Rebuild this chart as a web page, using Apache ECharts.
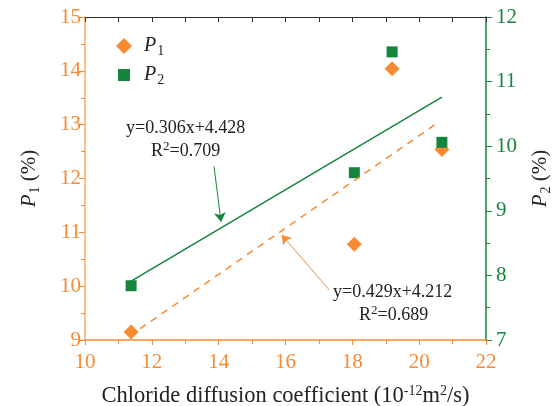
<!DOCTYPE html>
<html>
<head>
<meta charset="utf-8">
<script src="https://cdn.jsdelivr.net/npm/echarts@6/dist/echarts.min.js"></script>
<style>
  html, body { margin: 0; padding: 0; background: #fff; }
  #chart { width: 552px; height: 406px; }
</style>
</head>
<body>
<div id="chart"></div>
<script>
// chloride diffusion coefficient (x) for each specimen
const xValues = [11.38, 18.06, 19.19, 20.68]
// P1 (%) on left axis, P2 (%) on right axis
const p1Values = [9.15, 10.78, 14.04, 12.54]
const p2Values = [7.84, 9.59, 11.46, 10.06]
// ends of the fitted lines
const fitP1 = [[11.65, 9.21], [20.52, 13.02]]
const fitP2 = [[11.38, 7.91], [20.68, 10.76]]
// arrow ends [from, to]
const arrowP2 = [[13.86, 9.69], [14.07, 8.83]]
const arrowP1 = [[17.31, 9.93], [15.89, 10.95]]
const xTicks = [10, 12, 14, 16, 18, 20, 22]

const ORANGE = '#F68B33'
const GREEN = '#15843D'
const FONT = 'Liberation Serif'

const myChart = echarts.init(document.getElementById('chart'))

const supRich = {
  sup: { fontSize: 14, fontFamily: FONT, color: '#222', padding: [0, 0, 10, 0] },
}
const legendText = {
  rich: {
    i: { fontFamily: FONT, fontStyle: 'italic', fontSize: 20, color: '#222', padding: [0, 0, 0, 7] },
    s: { fontFamily: FONT, fontSize: 14, color: '#222', padding: [11, 0, 0, 1] },
  },
}
const legendFmt = function (name) {
  return '{i|P}{s|' + name.slice(1) + '}'
}
const sideName = {
  rich: {
    i: { fontFamily: FONT, fontStyle: 'italic', fontSize: 21, color: '#222' },
    s: { fontFamily: FONT, fontSize: 14, color: '#222', padding: [11, 0, 0, 1] },
    n: { fontFamily: FONT, fontSize: 21, color: '#222' },
  },
}

myChart.setOption({
  animation: false,
  backgroundColor: '#fff',
  grid: { left: 85, right: 66, top: 17, bottom: 66, containLabel: false, outerBoundsMode: 'none' },
  legend: [
    {
      left: 111,
      top: 31,
      itemWidth: 16,
      itemHeight: 16,
      data: ['P1'],
      formatter: legendFmt,
      textStyle: legendText,
    },
    {
      left: 113,
      top: 60,
      itemWidth: 12,
      itemHeight: 12,
      data: ['P2'],
      formatter: legendFmt,
      textStyle: {
        rich: {
          i: { fontFamily: FONT, fontStyle: 'italic', fontSize: 20, color: '#222', padding: [0, 0, 0, 9] },
          s: { fontFamily: FONT, fontSize: 14, color: '#222', padding: [11, 0, 0, 1] },
        },
      },
    },
  ],
  xAxis: [
    {
      type: 'value',
      position: 'bottom',
      min: xTicks[0],
      max: xTicks[xTicks.length - 1],
      interval: 2,
      splitLine: { show: false },
      axisLine: { lineStyle: { color: ORANGE, width: 1.5 } },
      axisTick: { length: 5, lineStyle: { color: ORANGE } },
      minorTick: { show: true, splitNumber: 2, length: 4, lineStyle: { color: ORANGE } },
      axisLabel: { color: ORANGE, fontSize: 21, fontFamily: FONT, margin: 12 },
      name: 'Chloride diffusion coefficient (10{sup|-12}m{sup|2}/s)',
      nameLocation: 'middle',
      nameGap: 44,
      nameTextStyle: { color: '#222', fontSize: 22.5, fontFamily: FONT, rich: supRich },
    },
    {
      type: 'value',
      position: 'top',
      min: 10,
      max: 22,
      interval: 1,
      splitLine: { show: false },
      axisLine: { lineStyle: { color: '#333', width: 1 } },
      axisTick: { inside: true, length: 5, lineStyle: { color: '#333' } },
      axisLabel: { show: false },
    },
  ],
  yAxis: [
    {
      type: 'value',
      position: 'left',
      min: 9,
      max: 15,
      interval: 1,
      splitLine: { show: false },
      axisLine: { show: true, lineStyle: { color: '#F9AE6E', width: 1.5 } },
      axisTick: { length: 6, lineStyle: { color: ORANGE } },
      minorTick: { show: true, splitNumber: 2, length: 4, lineStyle: { color: ORANGE } },
      axisLabel: { color: ORANGE, fontSize: 21, fontFamily: FONT, margin: 4 },
      name: '{i|P}{s|1}{n| (%)}',
      nameLocation: 'middle',
      nameRotate: 90,
      nameGap: 43,
      nameTextStyle: sideName,
    },
    {
      type: 'value',
      position: 'right',
      min: 7,
      max: 12,
      interval: 1,
      splitLine: { show: false },
      axisLine: { show: true, lineStyle: { color: GREEN, width: 1.5 } },
      axisTick: { length: 6, lineStyle: { color: GREEN } },
      minorTick: { show: true, splitNumber: 2, length: 4, lineStyle: { color: GREEN } },
      axisLabel: { color: GREEN, fontSize: 21, fontFamily: FONT, margin: 10 },
      name: '{i|P}{s|2}{n| (%)}',
      nameLocation: 'middle',
      nameRotate: 90,
      nameGap: 42,
      nameTextStyle: sideName,
    },
  ],
  series: [
    {
      name: 'fitP2',
      type: 'line',
      yAxisIndex: 1,
      data: fitP2,
      symbol: 'none',
      lineStyle: { color: GREEN, width: 1.5 },
      markLine: {
        silent: true,
        symbol: ['none', 'arrow'],
        symbolSize: 9,
        label: { show: false },
        lineStyle: { color: GREEN, width: 1, type: 'solid' },
        data: [[{ coord: arrowP2[0] }, { coord: arrowP2[1] }]],
      },
    },
    {
      name: 'fitP1',
      type: 'line',
      yAxisIndex: 0,
      data: fitP1,
      symbol: 'none',
      lineStyle: { color: ORANGE, width: 1.5, type: [7, 6] },
      markLine: {
        silent: true,
        symbol: ['none', 'arrow'],
        symbolSize: 9,
        label: { show: false },
        lineStyle: { color: ORANGE, width: 1, type: 'solid' },
        data: [[{ coord: arrowP1[0] }, { coord: arrowP1[1] }]],
      },
    },
    {
      name: 'P1',
      type: 'scatter',
      yAxisIndex: 0,
      symbol: 'diamond',
      symbolSize: 15,
      itemStyle: { color: ORANGE, opacity: 1 },
      data: xValues.map((x, i) => [x, p1Values[i]]),
    },
    {
      name: 'P2',
      type: 'scatter',
      yAxisIndex: 1,
      symbol: 'rect',
      symbolSize: 11,
      itemStyle: { color: GREEN, opacity: 1 },
      data: xValues.map((x, i) => [x, p2Values[i]]),
    },
  ],
  graphic: [
    {
      type: 'text',
      left: 126,
      top: 119,
      style: {
        text: 'y=0.306x+4.428',
        font: '18px "Liberation Serif"',
        fill: '#222',
      },
    },
    {
      type: 'text',
      left: 151,
      top: 140,
      style: {
        text: '{r|R}{sup|2}{r|=0.709}',
        rich: {
          r: { font: '18px "Liberation Serif"', fill: '#222' },
          sup: { font: '13px "Liberation Serif"', fill: '#222', padding: [0, 0, 9, 0] },
        },
      },
    },
    {
      type: 'text',
      left: 333,
      top: 283,
      style: {
        text: 'y=0.429x+4.212',
        font: '18px "Liberation Serif"',
        fill: '#222',
      },
    },
    {
      type: 'text',
      left: 359,
      top: 304,
      style: {
        text: '{r|R}{sup|2}{r|=0.689}',
        rich: {
          r: { font: '18px "Liberation Serif"', fill: '#222' },
          sup: { font: '13px "Liberation Serif"', fill: '#222', padding: [0, 0, 9, 0] },
        },
      },
    },
  ],
})
</script>
</body>
</html>
